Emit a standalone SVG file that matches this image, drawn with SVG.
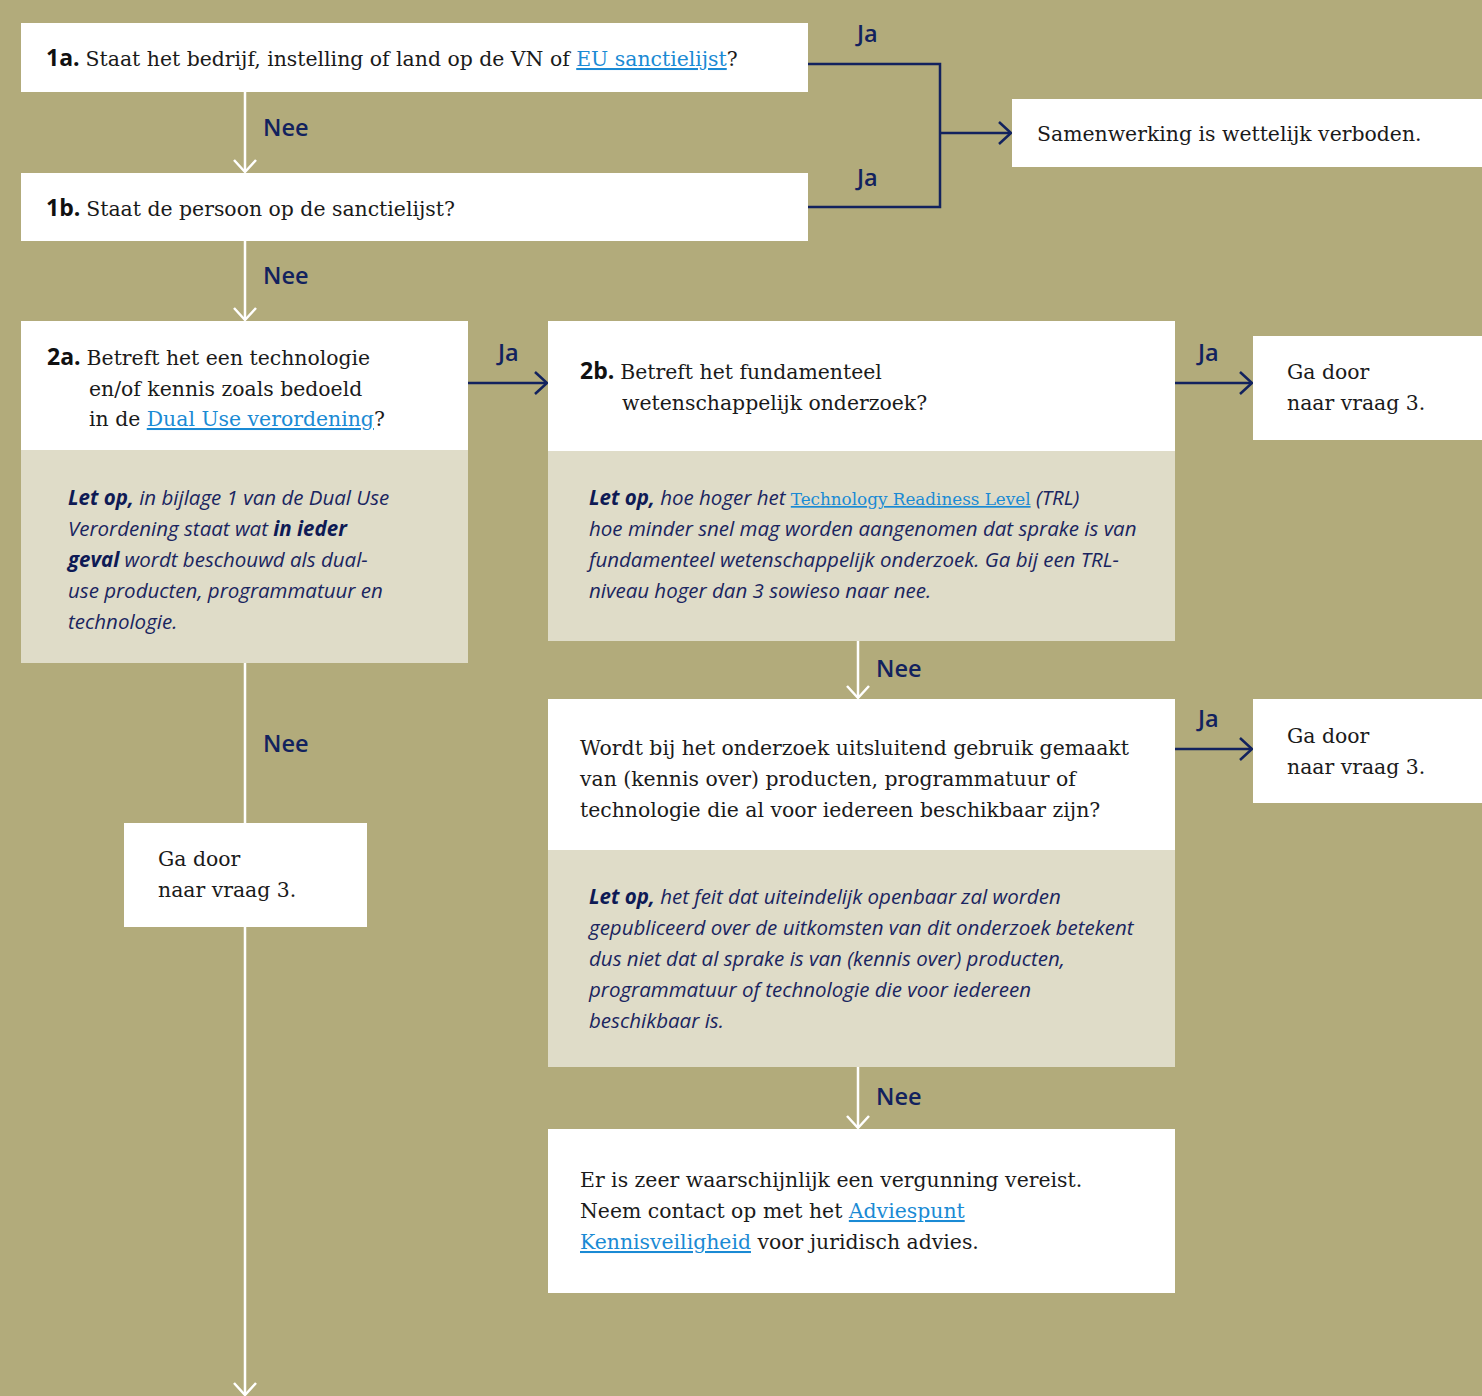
<svg xmlns="http://www.w3.org/2000/svg" width="1482" height="1396" viewBox="0 0 1482 1396">
<style>
.bg{fill:#b2ab7b}
.w{fill:#ffffff}
.lt{fill:#dfdcc8}
.q{font-family:"DejaVu Serif","Liberation Serif",serif;font-size:20.4px;fill:#1a1a1a}
.num{font-family:"Open Sans","DejaVu Sans",sans-serif;font-weight:700;font-size:23px;fill:#111}
.lnk{fill:#1a8ad4;text-decoration:underline}
.note{font-family:"Open Sans","DejaVu Sans",sans-serif;font-style:italic;font-size:20.5px;fill:#1a2560}
.note .b{font-weight:700;fill:#0e1a55}
.lbl{font-family:"Open Sans","DejaVu Sans",sans-serif;font-weight:600;font-size:23.5px;fill:#12225e}
.cw{stroke:#ffffff;stroke-width:2.5;fill:none}
.cn{stroke:#12225e;stroke-width:2.5;fill:none}
</style>
<defs>
<marker id="aw" markerUnits="userSpaceOnUse" markerWidth="30" markerHeight="30" refX="14" refY="12" orient="auto">
<path d="M2,1 L14,12 L2,23" fill="none" stroke="#ffffff" stroke-width="2.5"/>
</marker>
<marker id="an" markerUnits="userSpaceOnUse" markerWidth="30" markerHeight="30" refX="14" refY="12" orient="auto">
<path d="M2,1 L14,12 L2,23" fill="none" stroke="#12225e" stroke-width="2.5"/>
</marker>
</defs>
<rect class="bg" x="0" y="0" width="1482" height="1396"/>

<g id="connectors">
<line class="cw" x1="245" y1="92" x2="245" y2="172" marker-end="url(#aw)"/>
<line class="cw" x1="245" y1="241" x2="245" y2="320" marker-end="url(#aw)"/>
<line class="cw" x1="245" y1="663" x2="245" y2="1395" marker-end="url(#aw)"/>
<polyline class="cn" points="808,64 940,64 940,207 808,207"/>
<line class="cn" x1="940" y1="133" x2="1011" y2="133" marker-end="url(#an)"/>
<line class="cn" x1="468" y1="383" x2="547" y2="383" marker-end="url(#an)"/>
<line class="cn" x1="1175" y1="383" x2="1252" y2="383" marker-end="url(#an)"/>
<line class="cw" x1="858" y1="641" x2="858" y2="698" marker-end="url(#aw)"/>
<line class="cn" x1="1175" y1="749" x2="1252" y2="749" marker-end="url(#an)"/>
<line class="cw" x1="858" y1="1067" x2="858" y2="1128" marker-end="url(#aw)"/>
<text class="lbl" x="857" y="42">Ja</text>
<text class="lbl" x="857" y="186">Ja</text>
<text class="lbl" x="263" y="136">Nee</text>
<text class="lbl" x="263" y="284">Nee</text>
<text class="lbl" x="498" y="361">Ja</text>
<text class="lbl" x="1198" y="361">Ja</text>
<text class="lbl" x="876" y="677">Nee</text>
<text class="lbl" x="1198" y="727">Ja</text>
<text class="lbl" x="263" y="752">Nee</text>
<text class="lbl" x="876" y="1105">Nee</text>
</g>

<g id="n1a">
<rect class="w" x="21" y="23" width="787" height="69"/>
<text x="46" y="66"><tspan class="num">1a.</tspan><tspan class="q" dx="6">Staat het bedrijf, instelling of land op de VN of </tspan><tspan class="q lnk">EU sanctielijst</tspan><tspan class="q">?</tspan></text>
</g>

<g id="n1b">
<rect class="w" x="21" y="173" width="787" height="68"/>
<text x="46" y="216"><tspan class="num">1b.</tspan><tspan class="q" dx="6">Staat de persoon op de sanctielijst?</tspan></text>
</g>

<g id="nverboden">
<rect class="w" x="1012" y="99" width="470" height="68"/>
<text class="q" x="1037" y="141">Samenwerking is wettelijk verboden.</text>
</g>

<g id="n2a">
<rect class="w" x="21" y="321" width="447" height="129"/>
<rect class="lt" x="21" y="450" width="447" height="213"/>
<text x="47" y="365"><tspan class="num">2a.</tspan><tspan class="q" dx="6">Betreft het een technologie</tspan></text>
<text class="q" x="89" y="396">en/of kennis zoals bedoeld</text>
<text class="q" x="89" y="426">in de <tspan class="lnk">Dual Use verordening</tspan>?</text>
<text class="note" x="68" y="505"><tspan class="b">Let op,</tspan> in bijlage 1 van de Dual Use</text>
<text class="note" x="68" y="536">Verordening staat wat <tspan class="b">in ieder</tspan></text>
<text class="note" x="68" y="567"><tspan class="b">geval</tspan> wordt beschouwd als dual-</text>
<text class="note" x="68" y="598">use producten, programmatuur en</text>
<text class="note" x="68" y="629">technologie.</text>
</g>

<g id="n2b">
<rect class="w" x="548" y="321" width="627" height="130"/>
<rect class="lt" x="548" y="451" width="627" height="190"/>
<text x="580" y="379"><tspan class="num">2b.</tspan><tspan class="q" dx="6">Betreft het fundamenteel</tspan></text>
<text class="q" x="622" y="410">wetenschappelijk onderzoek?</text>
<text class="note" x="589" y="505"><tspan class="b">Let op,</tspan> hoe hoger het <tspan class="lnk" style="font-family:'DejaVu Serif','Liberation Serif',serif;font-style:normal;font-size:16.8px">Technology Readiness Level</tspan> (TRL)</text>
<text class="note" x="589" y="536">hoe minder snel mag worden aangenomen dat sprake is van</text>
<text class="note" x="589" y="567">fundamenteel wetenschappelijk onderzoek. Ga bij een TRL-</text>
<text class="note" x="589" y="598">niveau hoger dan 3 sowieso naar nee.</text>
</g>

<g id="nga1">
<rect class="w" x="1253" y="336" width="229" height="104"/>
<text class="q" x="1287" y="379">Ga door</text>
<text class="q" x="1287" y="410">naar vraag 3.</text>
</g>

<g id="nwordt">
<rect class="w" x="548" y="699" width="627" height="151"/>
<rect class="lt" x="548" y="850" width="627" height="217"/>
<text class="q" x="580" y="755">Wordt bij het onderzoek uitsluitend gebruik gemaakt</text>
<text class="q" x="580" y="786">van (kennis over) producten, programmatuur of</text>
<text class="q" x="580" y="817">technologie die al voor iedereen beschikbaar zijn?</text>
<text class="note" x="589" y="904"><tspan class="b">Let op,</tspan> het feit dat uiteindelijk openbaar zal worden</text>
<text class="note" x="589" y="935">gepubliceerd over de uitkomsten van dit onderzoek betekent</text>
<text class="note" x="589" y="966">dus niet dat al sprake is van (kennis over) producten,</text>
<text class="note" x="589" y="997">programmatuur of technologie die voor iedereen</text>
<text class="note" x="589" y="1028">beschikbaar is.</text>
</g>

<g id="nga2">
<rect class="w" x="1253" y="699" width="229" height="104"/>
<text class="q" x="1287" y="743">Ga door</text>
<text class="q" x="1287" y="774">naar vraag 3.</text>
</g>

<g id="nga3">
<rect class="w" x="124" y="823" width="243" height="104"/>
<text class="q" x="158" y="866">Ga door</text>
<text class="q" x="158" y="897">naar vraag 3.</text>
</g>

<g id="nvergunning">
<rect class="w" x="548" y="1129" width="627" height="164"/>
<text class="q" x="580" y="1187">Er is zeer waarschijnlijk een vergunning vereist.</text>
<text class="q" x="580" y="1218">Neem contact op met het <tspan class="lnk">Adviespunt </tspan></text>
<text class="q" x="580" y="1249"><tspan class="lnk">Kennisveiligheid</tspan> voor juridisch advies.</text>
</g>
</svg>
